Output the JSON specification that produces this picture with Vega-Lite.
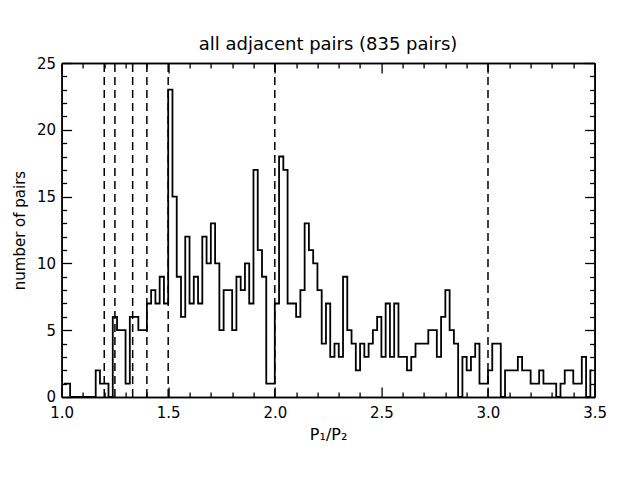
{
  "$schema": "https://vega.github.io/schema/vega-lite/v6.json",
  "width": 533,
  "height": 334,
  "autosize": {"type": "none"},
  "padding": {"left": 61.6, "top": 63, "right": 40, "bottom": 94},
  "background": "white",
  "config": {
    "view": {"stroke": null},
    "axis": {"grid": false, "domainColor": "black", "domainWidth": 1.5, "tickColor": "black", "tickWidth": 1.3, "labelColor": "black", "labelFont": "DejaVu Sans", "labelFontSize": 15, "titleFont": "DejaVu Sans", "titleFontSize": 15, "titleFontWeight": "normal", "titleColor": "black", "labelOverlap": false, "labelFlush": false, "labelBound": false}
  },
  "title": {"text": "all adjacent pairs (835 pairs)", "fontSize": 18, "font": "DejaVu Sans", "fontWeight": "normal", "color": "black", "offset": 2},
  "datasets": {
    "hist": [
      {"x": 1.01, "n": 1}, {"x": 1.03, "n": 1}, {"x": 1.05, "n": 0}, {"x": 1.07, "n": 0}, {"x": 1.09, "n": 0},
      {"x": 1.11, "n": 0}, {"x": 1.13, "n": 0}, {"x": 1.15, "n": 0}, {"x": 1.17, "n": 2}, {"x": 1.19, "n": 1},
      {"x": 1.21, "n": 1}, {"x": 1.23, "n": 0}, {"x": 1.25, "n": 6}, {"x": 1.27, "n": 5}, {"x": 1.29, "n": 5},
      {"x": 1.31, "n": 1}, {"x": 1.33, "n": 6}, {"x": 1.35, "n": 6}, {"x": 1.37, "n": 5}, {"x": 1.39, "n": 5},
      {"x": 1.41, "n": 7}, {"x": 1.43, "n": 8}, {"x": 1.45, "n": 7}, {"x": 1.47, "n": 9}, {"x": 1.49, "n": 7},
      {"x": 1.51, "n": 23}, {"x": 1.53, "n": 15}, {"x": 1.55, "n": 9}, {"x": 1.57, "n": 6}, {"x": 1.59, "n": 12},
      {"x": 1.61, "n": 7}, {"x": 1.63, "n": 9}, {"x": 1.65, "n": 7}, {"x": 1.67, "n": 12}, {"x": 1.69, "n": 10},
      {"x": 1.71, "n": 13}, {"x": 1.73, "n": 10}, {"x": 1.75, "n": 5}, {"x": 1.77, "n": 8}, {"x": 1.79, "n": 8},
      {"x": 1.81, "n": 5}, {"x": 1.83, "n": 9}, {"x": 1.85, "n": 8}, {"x": 1.87, "n": 10}, {"x": 1.89, "n": 7},
      {"x": 1.91, "n": 17}, {"x": 1.93, "n": 11}, {"x": 1.95, "n": 9}, {"x": 1.97, "n": 1}, {"x": 1.99, "n": 1},
      {"x": 2.01, "n": 7}, {"x": 2.03, "n": 18}, {"x": 2.05, "n": 17}, {"x": 2.07, "n": 7}, {"x": 2.09, "n": 7},
      {"x": 2.11, "n": 6}, {"x": 2.13, "n": 8}, {"x": 2.15, "n": 13}, {"x": 2.17, "n": 11}, {"x": 2.19, "n": 10},
      {"x": 2.21, "n": 8}, {"x": 2.23, "n": 4}, {"x": 2.25, "n": 7}, {"x": 2.27, "n": 3}, {"x": 2.29, "n": 4},
      {"x": 2.31, "n": 3}, {"x": 2.33, "n": 9}, {"x": 2.35, "n": 5}, {"x": 2.37, "n": 4}, {"x": 2.39, "n": 2},
      {"x": 2.41, "n": 4}, {"x": 2.43, "n": 3}, {"x": 2.45, "n": 4}, {"x": 2.47, "n": 5}, {"x": 2.49, "n": 6},
      {"x": 2.51, "n": 3}, {"x": 2.53, "n": 7}, {"x": 2.55, "n": 3}, {"x": 2.57, "n": 7}, {"x": 2.59, "n": 3},
      {"x": 2.61, "n": 3}, {"x": 2.63, "n": 2}, {"x": 2.65, "n": 3}, {"x": 2.67, "n": 4}, {"x": 2.69, "n": 4},
      {"x": 2.71, "n": 4}, {"x": 2.73, "n": 5}, {"x": 2.75, "n": 5}, {"x": 2.77, "n": 3}, {"x": 2.79, "n": 6},
      {"x": 2.81, "n": 8}, {"x": 2.83, "n": 5}, {"x": 2.85, "n": 4}, {"x": 2.87, "n": 0}, {"x": 2.89, "n": 3},
      {"x": 2.91, "n": 2}, {"x": 2.93, "n": 3}, {"x": 2.95, "n": 4}, {"x": 2.97, "n": 1}, {"x": 2.99, "n": 1},
      {"x": 3.01, "n": 2}, {"x": 3.03, "n": 4}, {"x": 3.05, "n": 4}, {"x": 3.07, "n": 0}, {"x": 3.09, "n": 2},
      {"x": 3.11, "n": 2}, {"x": 3.13, "n": 2}, {"x": 3.15, "n": 3}, {"x": 3.17, "n": 2}, {"x": 3.19, "n": 2},
      {"x": 3.21, "n": 1}, {"x": 3.23, "n": 1}, {"x": 3.25, "n": 2}, {"x": 3.27, "n": 1}, {"x": 3.29, "n": 1},
      {"x": 3.31, "n": 1}, {"x": 3.33, "n": 0}, {"x": 3.35, "n": 1}, {"x": 3.37, "n": 2}, {"x": 3.39, "n": 2},
      {"x": 3.41, "n": 1}, {"x": 3.43, "n": 1}, {"x": 3.45, "n": 3}, {"x": 3.47, "n": 0}, {"x": 3.49, "n": 2}
    ],
    "res": [{"r": 1.2}, {"r": 1.25}, {"r": 1.3333}, {"r": 1.4}, {"r": 1.5}, {"r": 2.0}, {"r": 3.0}]
  },
  "layer": [
    {
      "data": {"name": "hist"},
      "mark": {"type": "line", "interpolate": "step", "color": "black", "strokeWidth": 1.8, "clip": true},
      "encoding": {
        "x": {"field": "x", "type": "quantitative", "scale": {"domain": [1, 3.5], "nice": false, "zero": false},
          "axis": {"orient": "bottom", "values": [1.0, 1.5, 2.0, 2.5, 3.0, 3.5], "format": ".1f", "tickSize": -10,
            "labelPadding": 19, "title": "P₁/P₂", "titleFontSize": 16, "titlePadding": 6}},
        "y": {"field": "n", "type": "quantitative", "scale": {"domain": [0, 25], "nice": false},
          "axis": {"orient": "left", "values": [0, 5, 10, 15, 20, 25], "tickSize": -10,
            "labelPadding": 16, "title": "number of pairs", "titlePadding": 9}}
      }
    },
    {
      "data": {"name": "res"},
      "mark": {"type": "rule", "strokeDash": [8, 5], "color": "black", "strokeWidth": 1.5},
      "encoding": {
        "x": {"field": "r", "type": "quantitative", "scale": {"domain": [1, 3.5], "nice": false, "zero": false},
          "axis": {"orient": "top", "values": [1.0, 1.5, 2.0, 2.5, 3.0, 3.5], "tickSize": -10, "labels": false, "title": null}},
        "y": {"datum": 0, "type": "quantitative", "scale": {"domain": [0, 25], "nice": false},
          "axis": {"orient": "right", "values": [0, 5, 10, 15, 20, 25], "tickSize": -10, "labels": false, "title": null}},
        "y2": {"datum": 25}
      }
    },
    {
      "data": {"name": "hist"},
      "mark": {"type": "point", "opacity": 0},
      "encoding": {
        "x": {"field": "x", "type": "quantitative", "scale": {"domain": [1, 3.5], "nice": false, "zero": false},
          "axis": {"orient": "bottom", "values": [1.1,1.2,1.3,1.4,1.6,1.7,1.8,1.9,2.1,2.2,2.3,2.4,2.6,2.7,2.8,2.9,3.1,3.2,3.3,3.4], "tickSize": -5, "labels": false, "title": null}},
        "y": {"field": "n", "type": "quantitative", "scale": {"domain": [0, 25], "nice": false},
          "axis": {"orient": "left", "values": [1,2,3,4,6,7,8,9,11,12,13,14,16,17,18,19,21,22,23,24], "tickSize": -5, "labels": false, "title": null}}
      }
    },
    {
      "data": {"name": "hist"},
      "mark": {"type": "point", "opacity": 0},
      "encoding": {
        "x": {"field": "x", "type": "quantitative", "scale": {"domain": [1, 3.5], "nice": false, "zero": false},
          "axis": {"orient": "top", "values": [1.1,1.2,1.3,1.4,1.6,1.7,1.8,1.9,2.1,2.2,2.3,2.4,2.6,2.7,2.8,2.9,3.1,3.2,3.3,3.4], "tickSize": -5, "labels": false, "title": null}},
        "y": {"field": "n", "type": "quantitative", "scale": {"domain": [0, 25], "nice": false},
          "axis": {"orient": "right", "values": [1,2,3,4,6,7,8,9,11,12,13,14,16,17,18,19,21,22,23,24], "tickSize": -5, "labels": false, "title": null}}
      }
    }
  ],
  "resolve": {"axis": {"x": "independent", "y": "independent"}}
}
